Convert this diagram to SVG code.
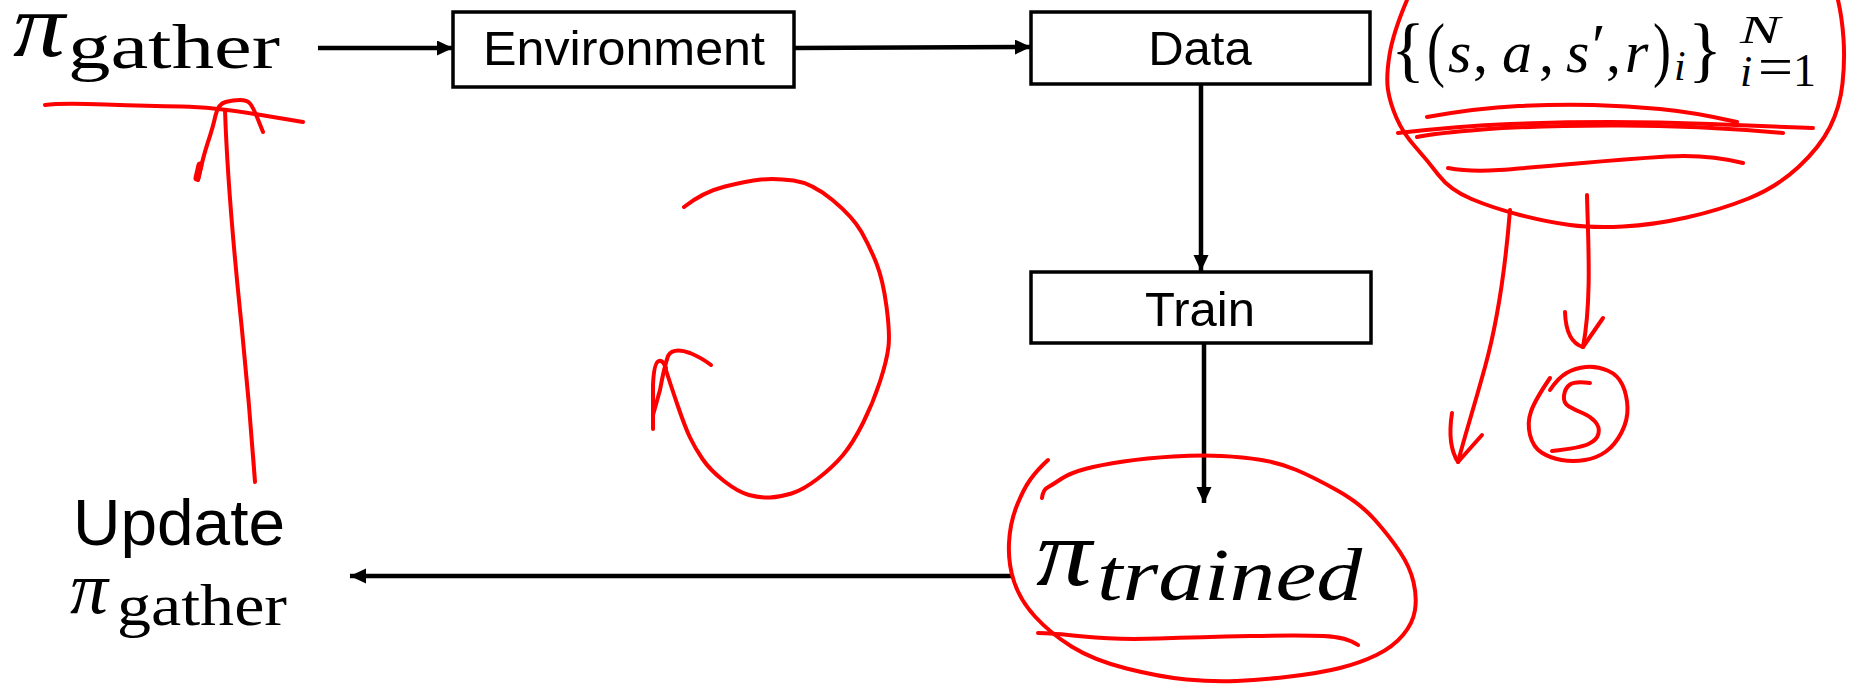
<svg xmlns="http://www.w3.org/2000/svg" width="1850" height="685" viewBox="0 0 1850 685">
  <defs>
    <style>
      .box { fill: #ffffff; stroke: #000000; stroke-width: 3.5; }
      .lbl { font-family: "Liberation Sans", Arial, sans-serif; fill: #000000; }
      .math { font-family: "Liberation Serif", "Times New Roman", serif; fill: #000000; }
      .it { font-style: italic; }
      .edge { fill: none; stroke: #000000; stroke-width: 4.5; }
      .ink { fill: none; stroke: #ff0000; stroke-width: 4; stroke-linecap: round; stroke-linejoin: round; }
    </style>
    <marker id="arrow" markerUnits="userSpaceOnUse" markerWidth="18" markerHeight="16" refX="16" refY="7.5" orient="auto">
      <path d="M0,0 L16,7.5 L0,15 Z" fill="#000000"/>
    </marker>
  </defs>
  <rect width="1850" height="685" fill="#ffffff"/>

  <!-- policy used for data gathering -->
  <g id="pi-gather">
    <text class="math" x="13" y="56">
      <tspan class="it" font-size="90" textLength="52" lengthAdjust="spacingAndGlyphs">π</tspan>
      <tspan x="68" y="68" font-size="64" textLength="212" lengthAdjust="spacingAndGlyphs">gather</tspan>
    </text>
  </g>

  <g id="environment">
    <rect class="box" x="453" y="12" width="341" height="75"/>
    <text class="lbl" x="483" y="65" font-size="48" textLength="282" lengthAdjust="spacingAndGlyphs">Environment</text>
  </g>

  <g id="data">
    <rect class="box" x="1031" y="12" width="339" height="72"/>
    <text class="lbl" x="1200" y="65" font-size="49" text-anchor="middle">Data</text>
  </g>

  <!-- dataset of transitions -->
  <g id="dataset">
    <text class="math" y="72" font-size="60">
      <tspan x="1391" y="73" font-size="71">{</tspan>
      <tspan x="1427" font-size="71" textLength="18" lengthAdjust="spacingAndGlyphs">(</tspan>
      <tspan x="1448" y="72" class="it">s</tspan>
      <tspan x="1473">,</tspan>
      <tspan x="1502" class="it">a</tspan>
      <tspan x="1539">,</tspan>
      <tspan x="1566" class="it">s</tspan>
      <tspan x="1592" y="66" font-size="62">′</tspan>
      <tspan x="1606" y="72">,</tspan>
      <tspan x="1625" class="it">r</tspan>
      <tspan x="1653" y="73" font-size="71" textLength="18" lengthAdjust="spacingAndGlyphs">)</tspan>
      <tspan x="1674" y="80" class="it" font-size="42">i</tspan>
      <tspan x="1688" y="73" font-size="71">}</tspan>
      <tspan x="1740" y="43" class="it" font-size="40" textLength="40" lengthAdjust="spacingAndGlyphs">N</tspan>
      <tspan x="1740" y="86" class="it" font-size="44">i</tspan>
      <tspan x="1758" y="86" font-size="56" textLength="35" lengthAdjust="spacingAndGlyphs">=</tspan>
      <tspan x="1793" y="86" font-size="46">1</tspan>
    </text>
  </g>

  <g id="train">
    <rect class="box" x="1031" y="272" width="340" height="71"/>
    <text class="lbl" x="1200" y="326" font-size="49" text-anchor="middle">Train</text>
  </g>

  <g id="pi-trained">
    <text class="math it" x="1036" y="585">
      <tspan font-size="96" textLength="56" lengthAdjust="spacingAndGlyphs">π</tspan>
      <tspan x="1097" y="600" font-size="74" textLength="265" lengthAdjust="spacingAndGlyphs">trained</tspan>
    </text>
  </g>

  <g id="update">
    <text class="lbl" x="73" y="545" font-size="64" textLength="212" lengthAdjust="spacingAndGlyphs">Update</text>
    <text class="math" x="70" y="613">
      <tspan class="it" font-size="74" textLength="38" lengthAdjust="spacingAndGlyphs">π</tspan>
      <tspan x="117" y="625" font-size="59" textLength="170" lengthAdjust="spacingAndGlyphs">gather</tspan>
    </text>
  </g>

  <g id="connectors">
    <line class="edge" x1="318" y1="48" x2="453" y2="48" marker-end="url(#arrow)"/>
    <line class="edge" x1="794" y1="48" x2="1031" y2="47" marker-end="url(#arrow)"/>
    <line class="edge" x1="1201" y1="84" x2="1201" y2="271" marker-end="url(#arrow)"/>
    <line class="edge" x1="1204" y1="343" x2="1204" y2="503" marker-end="url(#arrow)"/>
    <line class="edge" x1="1013" y1="576" x2="350" y2="576" marker-end="url(#arrow)"/>
  </g>

  <!-- hand-drawn red annotations -->
  <g id="annotations" class="ink">
    <!-- underline below the gathering policy and the upward arrow into it -->
    <path d="M45,105 Q60,103 105,104.5 Q150,106 181.5,106.5 Q213,107 258,114.5 L303,122"/>
    <path d="M255,482 C252,440 247,380 242,330 S228,200 225,110"/>
    <path d="M198,180 Q203,157 208,142 Q213,127 215.5,115.5 Q218,104 225.5,102 Q233,100 240,100 Q247,100 250,103.5 Q253,107 258,119.5 L263,132"/>
    <path d="M197,178 L200,165" stroke-width="7"/>

    <!-- loop arrow in the middle -->
    <path d="M684,207 Q703,192 725,186.5 Q747,181 761,179.5 Q775,178 793.5,180.5 Q812,183 832.5,200 Q853,217 861.5,232 Q870,247 876.5,263.5 Q883,280 886.5,306.5 Q890,333 888.5,346.5 Q887,360 880,381.5 Q873,403 863,423 Q853,443 843,455 Q833,467 818,478.5 Q803,490 791.5,493.5 Q780,497 770,497.5 Q760,498 749,495 Q738,492 724,481 Q710,470 702.5,459 Q695,448 690,437.5 Q685,427 677.5,405 Q670,383 665,367"/>
    <path d="M711,365 Q702,358 690,353 Q673,347 668,356 Q664,368 660,390 L653,415"/>
    <path d="M653,429 L653,385 Q654,362 659,361 Q663,360 666,368"/>

    <!-- loop around the dataset, with underlines -->
    <path d="M1407,0 Q1393,33 1389.5,55 Q1386,77 1388,90 Q1390,103 1396.5,118 Q1403,133 1415,146.5 Q1427,160 1438.5,175 Q1450,190 1471.5,199 Q1493,208 1520,215 Q1547,222 1570,225 Q1593,228 1623,226.5 Q1653,225 1686.5,217.5 Q1720,210 1748.5,198.5 Q1777,187 1798.5,167 Q1820,147 1830,127 Q1840,107 1842.5,83.5 Q1845,60 1843.5,38.5 Q1842,17 1838,0"/>
    <path d="M1427,117 Q1477,108 1518.5,106 Q1560,104 1593.5,105 Q1627,106 1660,109 Q1693,112 1737,122"/>
    <path d="M1398,133 Q1460,126 1510,124 Q1560,122 1610,122 Q1660,122 1710,124 Q1760,126 1813,128"/>
    <path d="M1417,137 Q1437,133 1482,129.5 Q1527,126 1610,125.5 Q1693,125 1783,133"/>
    <path d="M1448,168 Q1470,172 1498.5,170 Q1527,168 1577,163.5 Q1627,159 1667,156.5 Q1707,154 1743,163"/>

    <!-- arrows down from the dataset -->
    <path d="M1510,210 C1506,260 1498,320 1485,367 S1465,435 1458,462"/>
    <path d="M1452,413 Q1447,445 1458,462 L1482,435"/>
    <path d="M1587,195 C1588,240 1592,300 1583,347"/>
    <path d="M1565,312 Q1566,342 1583,347 L1603,318"/>

    <!-- circled S -->
    <path d="M1550,378 Q1535,400 1531,411.5 Q1527,423 1530,435 Q1533,447 1541.5,452.5 Q1550,458 1561.5,460 Q1573,462 1585,460 Q1597,458 1606,451.5 Q1615,445 1621.5,432.5 Q1628,420 1627.5,407.5 Q1627,395 1622.5,385 Q1618,375 1607.5,370.5 Q1597,366 1586,367 Q1575,368 1566.5,373 Q1558,378 1550,390"/>
    <path d="M1590,383 Q1575,381 1570,384.5 Q1565,388 1564,395.5 Q1563,403 1569,406.5 Q1575,410 1582.5,413 Q1590,416 1595,421.5 Q1600,427 1598.5,433.5 Q1597,440 1588.5,444 Q1580,448 1552,451"/>

    <!-- loop around the trained policy, with underline -->
    <path d="M1042,498 Q1043,490 1047.5,487.5 Q1052,485 1061,479 Q1070,473 1085,469 Q1100,465 1123.5,461.5 Q1147,458 1173.5,456.5 Q1200,455 1221.5,456 Q1243,457 1261.5,460 Q1280,463 1296.5,470 Q1313,477 1336.5,490 Q1360,503 1375,520 Q1390,537 1400,552 Q1410,567 1413.5,582 Q1417,597 1415,610 Q1413,623 1403,635 Q1393,647 1376.5,655 Q1360,663 1340,668 Q1320,673 1290,676.5 Q1260,680 1236.5,681 Q1213,682 1186.5,679.5 Q1160,677 1126.5,668.5 Q1093,660 1071.5,646.5 Q1050,633 1035,616.5 Q1020,600 1014,581.5 Q1008,563 1009,543 Q1010,523 1016.5,506.5 Q1023,490 1030,480 Q1037,470 1048,460"/>
    <path d="M1038,633 Q1050,633 1083.5,636.5 Q1117,640 1158.5,638.5 Q1200,637 1250,636 Q1300,635 1323.5,636 Q1347,637 1358,645"/>
  </g>
</svg>
